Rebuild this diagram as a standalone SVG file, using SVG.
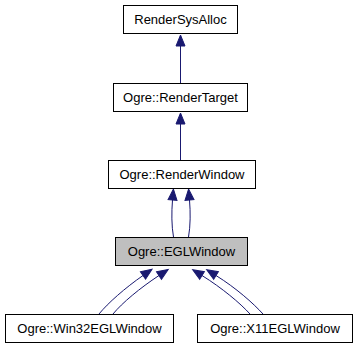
<svg xmlns="http://www.w3.org/2000/svg" width="357" height="349" viewBox="0 0 357 349">
  <style>
    .node rect { fill: #ffffff; stroke: #000000; stroke-width: 1; }
    .node.current rect { fill: #bfbfbf; }
    .node text { font-family: "Liberation Sans", Arial, sans-serif; font-size: 13px; fill: #000000; text-anchor: middle; }
    .edge { fill: none; stroke: #191970; stroke-width: 1; marker-end: url(#head); }
  </style>
  <defs>
    <marker id="head" markerUnits="userSpaceOnUse" markerWidth="14" markerHeight="12" refX="0" refY="5" orient="auto" viewBox="0 0 14 10" overflow="visible">
      <path d="M0,0.5 L11,5 L0,9.5 Z" fill="#191970" stroke="#191970" stroke-width="1"/>
    </marker>
  </defs>
  <rect width="357" height="349" fill="#ffffff"/>

  <g id="edges">
    <path class="edge" d="M180.5,83 V46"/>
    <path class="edge" d="M180.5,160 V124"/>
    <path class="edge" d="M173.5,237 C171.5,226 171.5,212 172.5,200"/>
    <path class="edge" d="M188.5,237 C190.5,226 190.5,212 189.5,200"/>
    <path class="edge" d="M99,314 C108,303 125,288 143,275.5"/>
    <path class="edge" d="M113,314 C122,303 140,288 159,275.5"/>
    <path class="edge" d="M250,314 C240,303 222,288 202,275.5"/>
    <path class="edge" d="M263,314 C253,303 236,288 216,275.5"/>
  </g>

  <g id="RenderSysAlloc" class="node">
    <rect x="123.5" y="5.5" width="114" height="28"/>
    <text x="180.5" y="24">RenderSysAlloc</text>
  </g>
  <g id="RenderTarget" class="node">
    <rect x="113.5" y="83.5" width="134" height="28"/>
    <text x="180.5" y="102">Ogre::RenderTarget</text>
  </g>
  <g id="RenderWindow" class="node">
    <rect x="108.5" y="160.5" width="147" height="28"/>
    <text x="182" y="179">Ogre::RenderWindow</text>
  </g>
  <g id="EGLWindow" class="node current">
    <rect x="115.5" y="237.5" width="132" height="28"/>
    <text x="181.5" y="256">Ogre::EGLWindow</text>
  </g>
  <g id="Win32EGLWindow" class="node">
    <rect x="5.5" y="314.5" width="168" height="28"/>
    <text x="89.5" y="333">Ogre::Win32EGLWindow</text>
  </g>
  <g id="X11EGLWindow" class="node">
    <rect x="197.5" y="314.5" width="155" height="28"/>
    <text x="275" y="333">Ogre::X11EGLWindow</text>
  </g>
</svg>
